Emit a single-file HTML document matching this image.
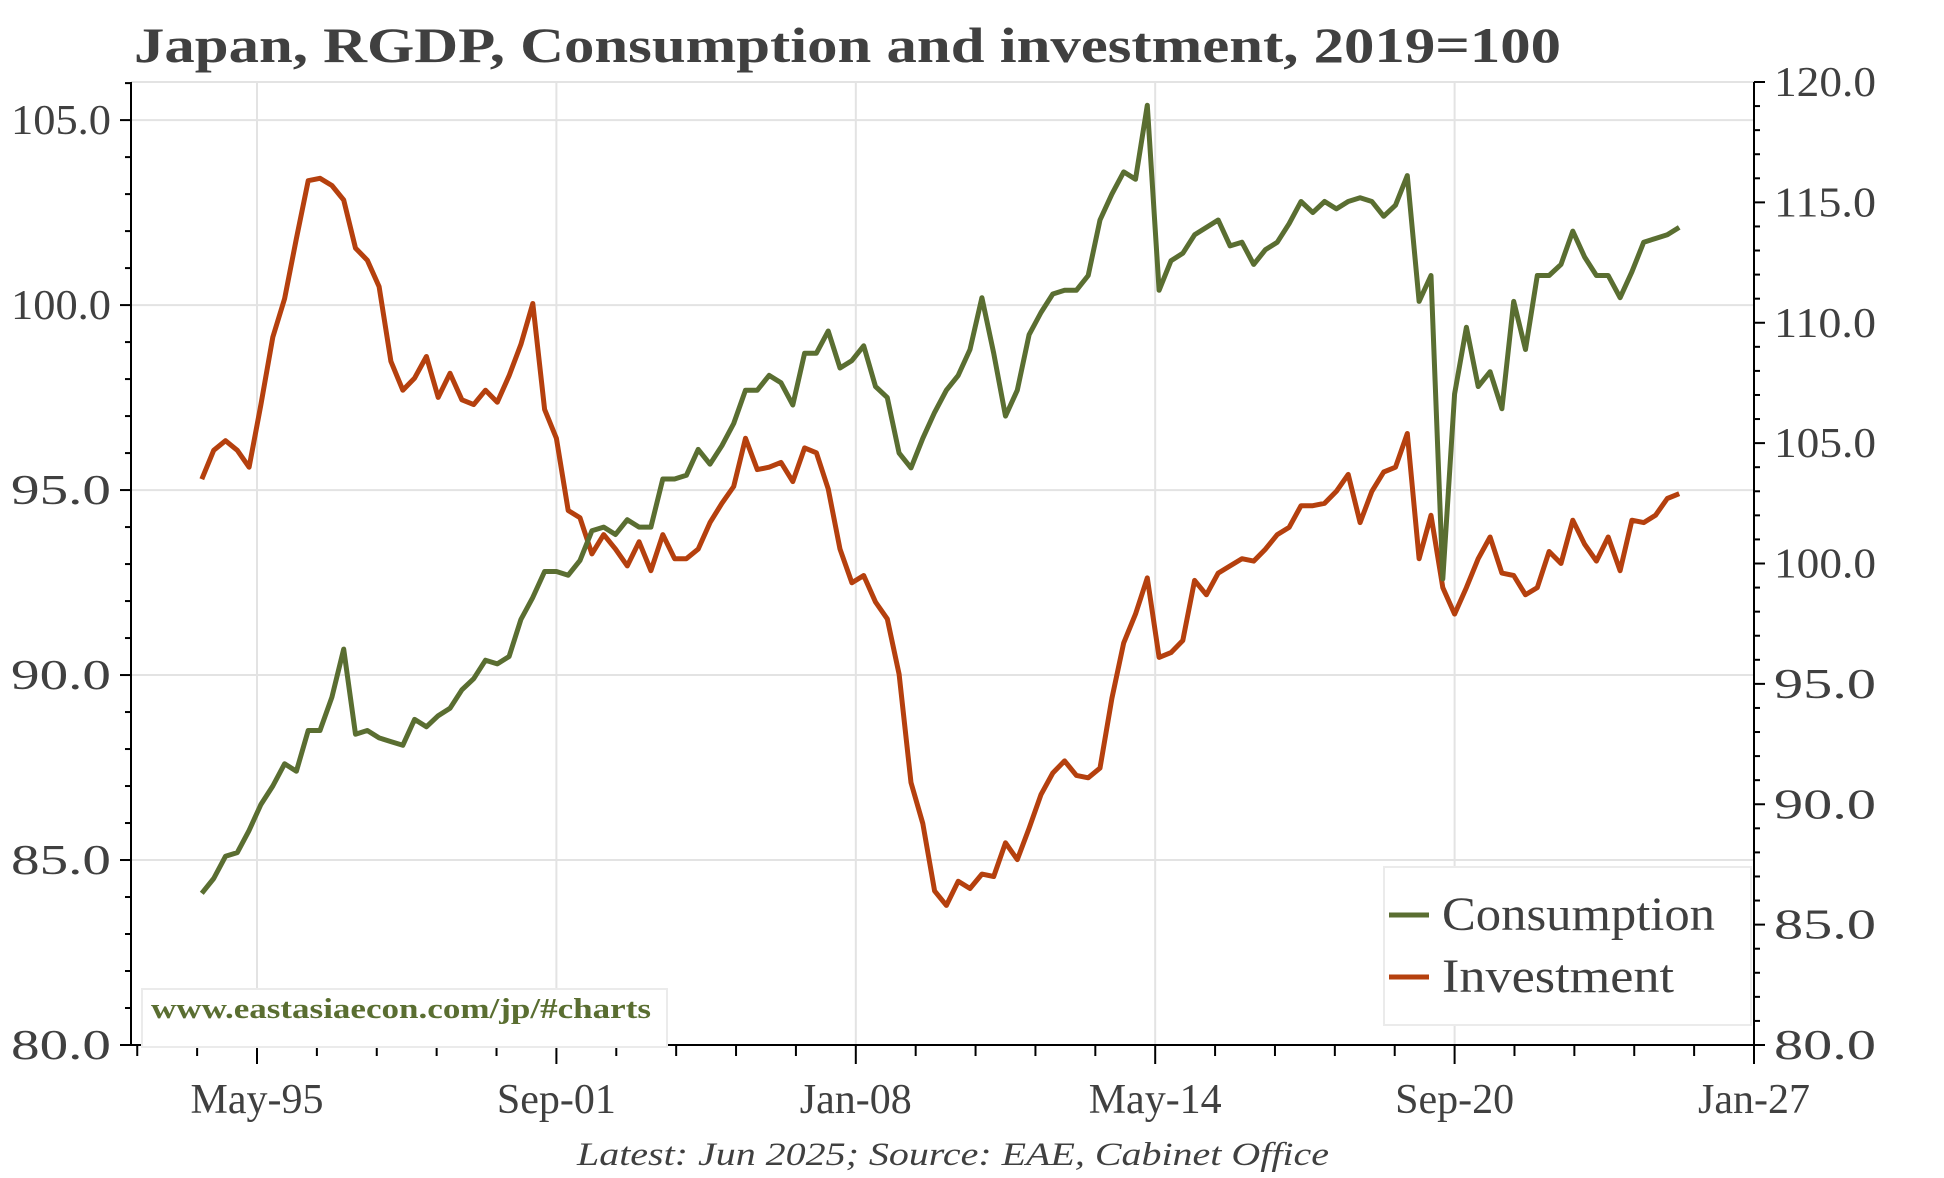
<!DOCTYPE html>
<html><head><meta charset="utf-8"><style>
html,body{margin:0;padding:0;background:#fff;}
svg{display:block;}
text{font-family:"Liberation Serif",serif;fill:#404040;}
</style></head><body>
<svg id="chart" width="1944" height="1178" viewBox="0 0 1944 1178" xmlns="http://www.w3.org/2000/svg">
<text x="134" y="62" font-size="50" font-weight="bold" textLength="1427" lengthAdjust="spacingAndGlyphs">Japan, RGDP, Consumption and investment, 2019=100</text>
<g id="grid"></g>
<g id="axes"></g>
<g id="series"></g>
<g>
<rect x="142" y="989" width="525" height="58" fill="#fff" stroke="#ebebeb" stroke-width="2"/>
<text x="151" y="1018" font-size="28" font-weight="bold" style="fill:#5a6e31" textLength="500" lengthAdjust="spacingAndGlyphs">www.eastasiaecon.com/jp/#charts</text>
</g>
<g>
<rect x="1384" y="867" width="367" height="158" fill="#fff" stroke="#ebebeb" stroke-width="2"/>
<line x1="1389" y1="915" x2="1429" y2="915" stroke="#5a6e31" stroke-width="5"/>
<text x="1442" y="930" font-size="48" textLength="273" lengthAdjust="spacingAndGlyphs">Consumption</text>
<line x1="1389" y1="977" x2="1429" y2="977" stroke="#b5400e" stroke-width="5"/>
<text x="1442" y="992" font-size="48" textLength="232" lengthAdjust="spacingAndGlyphs">Investment</text>
</g>
<text x="953" y="1165" font-size="33" font-style="italic" text-anchor="middle" textLength="752" lengthAdjust="spacingAndGlyphs">Latest: Jun 2025; Source: EAE, Cabinet Office</text>
</svg>
<script>
const consumption=[84.1,84.5,85.1,85.2,85.8,86.5,87.0,87.6,87.4,88.5,88.5,89.4,90.7,88.4,88.5,88.3,88.2,88.1,88.8,88.6,88.9,89.1,89.6,89.9,90.4,90.3,90.5,91.5,92.1,92.8,92.8,92.7,93.1,93.9,94.0,93.8,94.2,94.0,94.0,95.3,95.3,95.4,96.1,95.7,96.2,96.8,97.7,97.7,98.1,97.9,97.3,98.7,98.7,99.3,98.3,98.5,98.9,97.8,97.5,96.0,95.6,96.4,97.1,97.7,98.1,98.8,100.2,98.7,97.0,97.7,99.2,99.8,100.3,100.4,100.4,100.8,102.3,103.0,103.6,103.4,105.4,100.4,101.2,101.4,101.9,102.1,102.3,101.6,101.7,101.1,101.5,101.7,102.2,102.8,102.5,102.8,102.6,102.8,102.9,102.8,102.4,102.7,103.5,100.1,100.8,92.6,97.6,99.4,97.8,98.2,97.2,100.1,98.8,100.8,100.8,101.1,102.0,101.3,100.8,100.8,100.2,100.9,101.7,101.8,101.9,102.1];
const investment=[103.5,104.7,105.1,104.7,104.0,106.6,109.4,111.0,113.5,115.9,116.0,115.7,115.1,113.1,112.6,111.5,108.4,107.2,107.7,108.6,106.9,107.9,106.8,106.6,107.2,106.7,107.8,109.1,110.8,106.4,105.2,102.2,101.9,100.4,101.2,100.6,99.9,100.9,99.7,101.2,100.2,100.2,100.6,101.7,102.5,103.2,105.2,103.9,104.0,104.2,103.4,104.8,104.6,103.1,100.6,99.2,99.5,98.4,97.7,95.4,90.9,89.2,86.4,85.8,86.8,86.5,87.1,87.0,88.4,87.7,89.0,90.4,91.3,91.8,91.2,91.1,91.5,94.4,96.7,97.9,99.4,96.1,96.3,96.8,99.3,98.7,99.6,99.9,100.2,100.1,100.6,101.2,101.5,102.4,102.4,102.5,103.0,103.7,101.7,103.0,103.8,104.0,105.4,100.2,102.0,99.0,97.9,99.0,100.2,101.1,99.6,99.5,98.7,99.0,100.5,100.0,101.8,100.8,100.1,101.1,99.7,101.8,101.7,102.0,102.7,102.9];
const startYear=1994, startMonth=3;
const leftTicks=[80,85,90,95,100,105];
const rightTicks=[80,85,90,95,100,105,110,115,120];
const xTickLabels=["May-95","Sep-01","Jan-08","May-14","Sep-20","Jan-27"];
const xTickMonths=[1995*12+5,2001*12+9,2008*12+1,2014*12+5,2020*12+9,2027*12+1];

const NS="http://www.w3.org/2000/svg";
const PL=131,PR=1754,PT=82,PB=1045;
const pxPerMonth=(PR-257)/((2027*12+1)-(1995*12+5));
function xS(m){return 257+(m-(1995*12+5))*pxPerMonth;}
function yL(v){return PB-(v-80)/(106.03-80)*(PB-PT);}
function yR(v){return PB-(v-80)/(120-80)*(PB-PT);}
function mk(tag,attrs,parent){const e=document.createElementNS(NS,tag);for(const k in attrs)e.setAttribute(k,attrs[k]);parent.appendChild(e);return e;}
const gridG=document.getElementById('grid'),axesG=document.getElementById('axes'),seriesG=document.getElementById('series');

leftTicks.forEach(v=>{if(v===80)return;const g=mk('line',{x1:PL,x2:PR,y1:yL(v),y2:yL(v),stroke:'#e3e3e3','stroke-width':2},gridG);

});
const topBorder=mk('line',{x1:PL,x2:PR,y1:PT,y2:PT,stroke:'#e3e3e3','stroke-width':2},gridG);


xTickMonths.forEach(m=>{const x=xS(m);if(x>=PR-1)return;const g=mk('line',{x1:x,x2:x,y1:PT,y2:PB,stroke:'#e3e3e3','stroke-width':2},gridG);

});

const la=mk('line',{x1:PL,x2:PL,y1:PT,y2:PB,stroke:'#000','stroke-width':2},axesG);


const ra=mk('line',{x1:PR,x2:PR,y1:PT,y2:PB,stroke:'#000','stroke-width':2},axesG);


const ba=mk('line',{x1:PL,x2:PR,y1:PB,y2:PB,stroke:'#000','stroke-width':2},axesG);


for(let v=80;v<=106;v++){const major=v%5===0;mk('line',{x1:PL-(major?11:6),x2:PL,y1:yL(v),y2:yL(v),stroke:'#000','stroke-width':2},axesG);}
leftTicks.forEach(v=>{const t=mk('text',{x:PL-20,y:yL(v)+14,'font-size':42,'text-anchor':'end',textLength:100,lengthAdjust:'spacingAndGlyphs'},axesG);t.textContent=v.toFixed(1);

});
for(let v=80;v<=120;v++){const major=v%5===0;mk('line',{x1:PR,x2:PR+(major?11:6),y1:yR(v),y2:yR(v),stroke:'#000','stroke-width':2},axesG);}
rightTicks.forEach(v=>{const t=mk('text',{x:PR+20,y:yR(v)+14,'font-size':42,textLength:102,lengthAdjust:'spacingAndGlyphs'},axesG);t.textContent=v.toFixed(1);

});
const step=(xTickMonths[1]-xTickMonths[0])/5;
for(let k=-2;k<=25;k++){const m=xTickMonths[0]+k*step;const major=((k%5)+5)%5===0;mk('line',{x1:xS(m),x2:xS(m),y1:PB,y2:PB+(major?19:11),stroke:'#000','stroke-width':2},axesG);}
xTickMonths.forEach((m,i)=>{const t=mk('text',{x:xS(m),y:1113,'font-size':42,'text-anchor':'middle'},axesG);t.textContent=xTickLabels[i];

});

function monthOf(i){return startYear*12+startMonth+i*3;}
function path(arr,ys){return arr.map((v,i)=>(i?'L':'M')+xS(monthOf(i)).toFixed(1)+','+ys(v).toFixed(1)).join(' ');}
const pi=mk('path',{d:path(investment,yR),fill:'none',stroke:'#b5400e','stroke-width':5,'stroke-linejoin':'round'},seriesG);


const pc=mk('path',{d:path(consumption,yL),fill:'none',stroke:'#5a6e31','stroke-width':5,'stroke-linejoin':'round'},seriesG);


</script>
</body></html>
